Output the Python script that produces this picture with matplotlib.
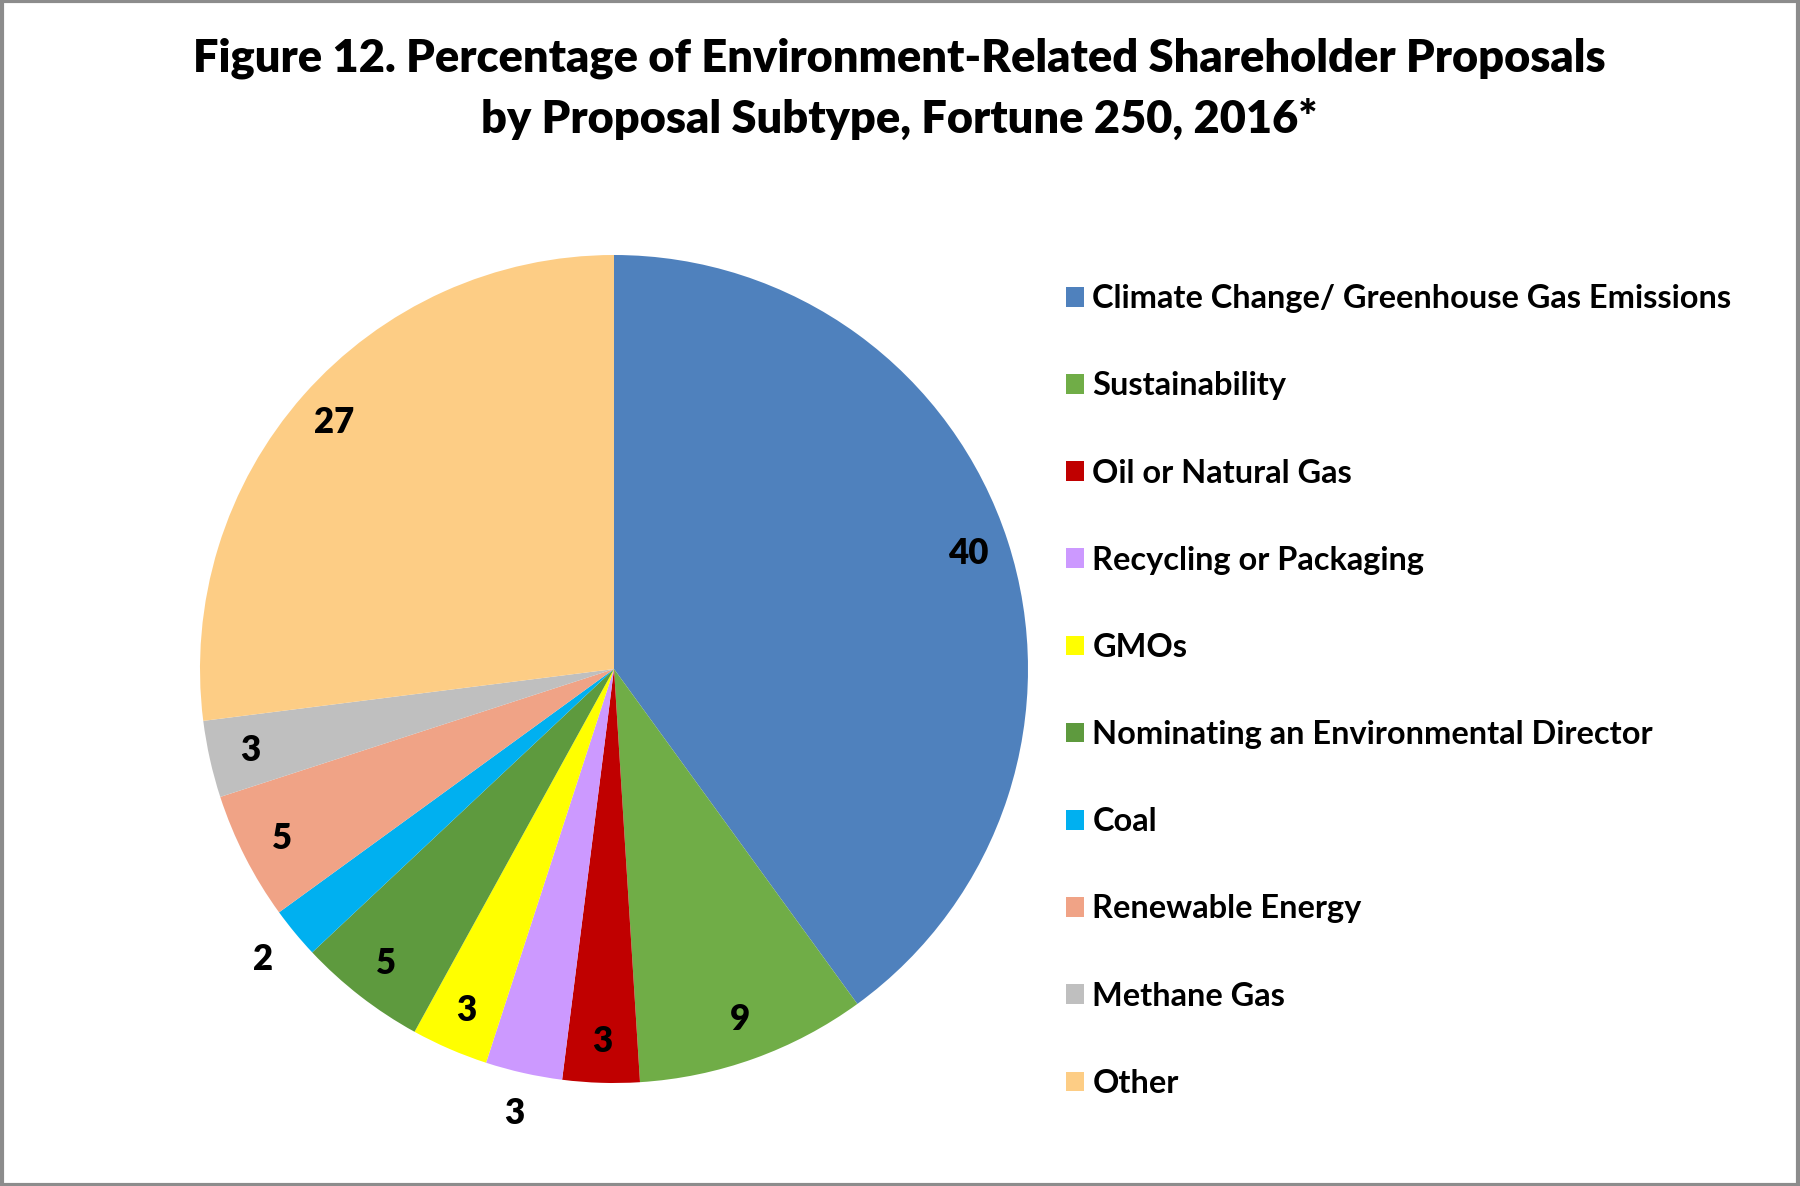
import matplotlib.pyplot as plt
import numpy as np

subtypes = ["Climate Change/ Greenhouse Gas Emissions", "Sustainability", "Oil or Natural Gas",
            "Recycling or Packaging", "GMOs", "Nominating an Environmental Director", "Coal",
            "Renewable Energy", "Methane Gas", "Other"]
percent = [40, 9, 3, 3, 3, 5, 2, 5, 3, 27]

colors = ["#4F81BD", "#70AD47", "#C00000", "#CC99FF", "#FFFF00", "#5E9A3E", "#00B0F0",
          "#F0A386", "#BFBFBF", "#FDCD85"]
# labels that sit outside the pie
outside = [3, 6]

plt.rcParams["font.family"] = ["Lato", "DejaVu Sans"]

W, H = 1800, 1186
fig = plt.figure(figsize=(W / 100, H / 100), dpi=100)

cx, cy, R = 614, 669, 414
ax = fig.add_axes([(cx - R) / W, (H - cy - R) / H, 2 * R / W, 2 * R / H])
wedges, _ = ax.pie(percent, colors=colors, startangle=90, counterclock=False, radius=1,
                   wedgeprops=dict(linewidth=0))
ax.set_xlim(-1, 1)
ax.set_ylim(-1, 1)
ax.set_aspect("equal")

for i, w in enumerate(wedges):
    ang = np.deg2rad((w.theta1 + w.theta2) / 2)
    r = 1.1 if i in outside else 0.9
    ax.text(r * np.cos(ang), r * np.sin(ang), str(percent[i]), ha="center", va="center",
            fontsize=25, fontweight="heavy", color="black")

fig.text(899 / W, 1 - 58 / H, "Figure 12. Percentage of Environment-Related Shareholder Proposals",
         ha="center", va="center", fontsize=32.5, fontweight="heavy")
fig.text(899 / W, 1 - 119 / H, "by Proposal Subtype, Fortune 250, 2016*",
         ha="center", va="center", fontsize=32.5, fontweight="heavy")

leg = fig.legend(wedges, subtypes, loc="upper left", bbox_to_anchor=(1037 / W, 1 - 255 / H),
                 frameon=False, prop=dict(size=23.4, weight="bold"),
                 handlelength=0.55, handleheight=0.55, handletextpad=0.25, labelspacing=1.79)

fig.patches.append(plt.Rectangle((0.001, 0.001), 0.998, 0.998, transform=fig.transFigure,
                                 fill=False, edgecolor="#8C8C8C", linewidth=3))

fig.savefig("out.png", dpi=100, facecolor="white")
